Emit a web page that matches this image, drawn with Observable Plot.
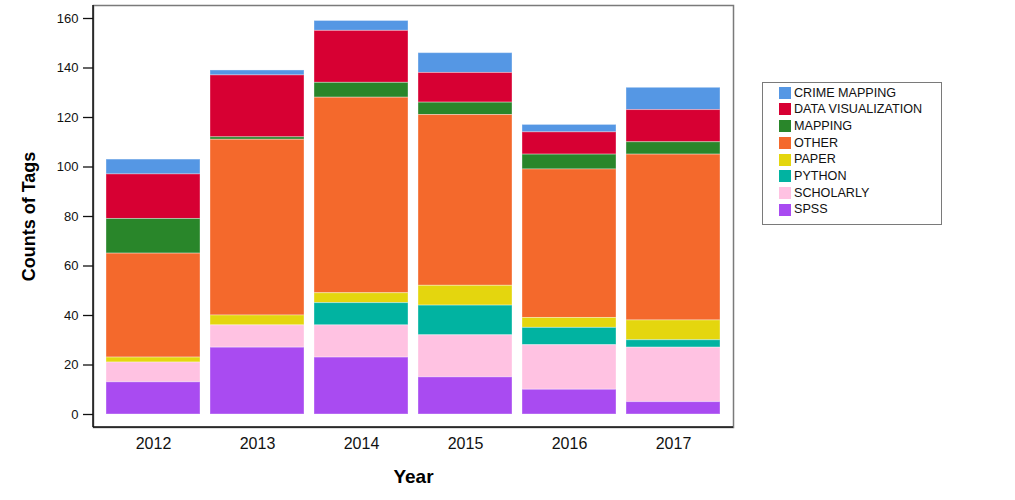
<!DOCTYPE html>
<html>
<head>
<meta charset="utf-8">
<script src="https://cdn.jsdelivr.net/npm/d3@7"></script>
<script src="https://cdn.jsdelivr.net/npm/@observablehq/plot@0.6"></script>
<style>
  body { margin: 0; background: #fff; font-family: "Liberation Sans", Arial, sans-serif; }
  #wrap { position: relative; width: 1015px; height: 500px; }
  #legend { position: absolute; left: 762px; top: 82px; width: 178px; height: 139px;
            border: 1.5px solid #7a7a7a; box-sizing: content-box; padding-top: 1.5px; }
  .row { height: 16.7px; line-height: 16.7px; font-size: 12.6px; color: #111; position: relative; padding-left: 31px; white-space: nowrap; }
  .sw { position: absolute; left: 16px; top: 2.3px; width: 12px; height: 12px; }
</style>
</head>
<body>
<div id="wrap"></div>
<script>
const years = ["2012", "2013", "2014", "2015", "2016", "2017"];
const categories = ["CRIME MAPPING", "DATA VISUALIZATION", "MAPPING", "OTHER", "PAPER", "PYTHON", "SCHOLARLY", "SPSS"];
const colors = ["#5597e4", "#d70033", "#29862a", "#f4692c", "#e4d60e", "#01b3a1", "#ffc2e2", "#a94bf1"];
const stackOrder = ["SPSS", "SCHOLARLY", "PYTHON", "PAPER", "OTHER", "MAPPING", "DATA VISUALIZATION", "CRIME MAPPING"];

const crimeMapping      = [6, 2, 4, 8, 3, 9];
const dataVisualization = [18, 25, 21, 12, 9, 13];
const mapping           = [14, 1, 6, 5, 6, 5];
const other             = [42, 71, 79, 69, 60, 67];
const paper             = [2, 4, 4, 8, 4, 8];
const python            = [0, 0, 9, 12, 7, 3];
const scholarly         = [8, 9, 13, 17, 18, 22];
const spss              = [13, 27, 23, 15, 10, 5];

const yTicks = [0, 20, 40, 60, 80, 100, 120, 140, 160];

const seriesByCat = {
  "CRIME MAPPING": crimeMapping,
  "DATA VISUALIZATION": dataVisualization,
  "MAPPING": mapping,
  "OTHER": other,
  "PAPER": paper,
  "PYTHON": python,
  "SCHOLARLY": scholarly,
  "SPSS": spss
};

const table = [];
for (const c of categories) {
  seriesByCat[c].forEach((v, i) => table.push({year: years[i], tag: c, count: v}));
}

const W = 1015, H = 500, mL = 93, mR = 282, mT = 5, mB = 73;

const chart = Plot.plot({
  width: W,
  height: H,
  marginLeft: mL,
  marginRight: mR,
  marginTop: mT,
  marginBottom: mB,
  style: {fontFamily: '"Liberation Sans", Arial, sans-serif', background: "#fff", color: "#111"},
  x: {domain: years, paddingInner: 0.1, paddingOuter: 0.11, label: null},
  y: {domain: [0, 160], insetTop: 13, insetBottom: 13, label: null},
  color: {domain: categories, range: colors},
  marks: [
    Plot.barY(table, Plot.stackY({
      x: "year", y: "count", fill: "tag", order: stackOrder,
      stroke: "#fff", strokeOpacity: 0.35, strokeWidth: 1
    })),
    Plot.frame({stroke: "#7a7a7a", strokeWidth: 1.5}),
    Plot.axisY({ticks: yTicks, tickSize: 10, tickPadding: 5, fontSize: 13, stroke: "#111", strokeWidth: 1.3, label: null}),
    Plot.axisX({tickSize: 0, tickPadding: 10, fontSize: 16, label: null}),
    Plot.text(["Counts of Tags"], {frameAnchor: "left", dx: -64, rotate: -90, fontSize: 18, fontWeight: "bold", textAnchor: "middle", lineAnchor: "middle", fill: "#000"}),
    Plot.text(["Year"], {frameAnchor: "bottom", dy: 49, fontSize: 19, fontWeight: "bold", textAnchor: "middle", lineAnchor: "middle", fill: "#000"})
  ]
});

const wrap = document.getElementById("wrap");
wrap.appendChild(chart);

// dark left and bottom frame edges (axis lines)
const svg = d3.select(chart);
svg.append("line").attr("x1", mL).attr("x2", mL).attr("y1", mT).attr("y2", H - mB)
  .attr("stroke", "#111").attr("stroke-width", 1.5);
svg.append("line").attr("x1", mL).attr("x2", W - mR).attr("y1", H - mB).attr("y2", H - mB)
  .attr("stroke", "#111").attr("stroke-width", 1.5);

const legend = document.createElement("div");
legend.id = "legend";
categories.forEach((c, i) => {
  const row = document.createElement("div");
  row.className = "row";
  const sw = document.createElement("span");
  sw.className = "sw";
  sw.style.background = colors[i];
  row.appendChild(sw);
  row.appendChild(document.createTextNode(c));
  legend.appendChild(row);
});
wrap.appendChild(legend);
</script>
</body>
</html>
